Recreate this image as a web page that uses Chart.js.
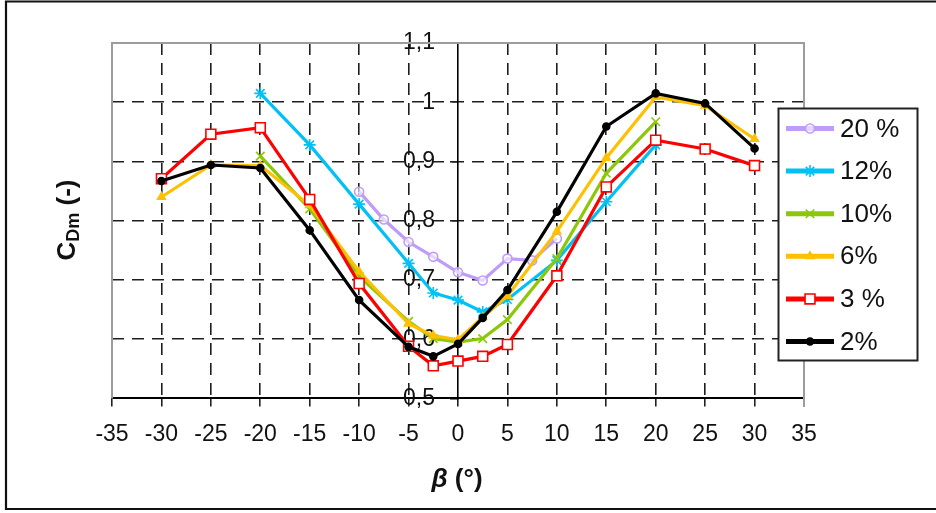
<!DOCTYPE html>
<html>
<head>
<meta charset="utf-8">
<script src="https://cdn.jsdelivr.net/npm/chart.js@4.4.1/dist/chart.umd.min.js"></script>
<style>
  html, body { margin: 0; padding: 0; background: #fff; }
  #wrap { width: 936px; height: 513px; }
</style>
</head>
<body>
<div id="wrap"><canvas id="cd" width="936" height="513"></canvas></div>
<script>
// Drag coefficient C_Dm against yaw angle beta, one curve per blockage ratio

const betaTicks = [-35, -30, -25, -20, -15, -10, -5, 0, 5, 10, 15, 20, 25, 30, 35];
const cdTickLabels = ['0,5', '0,6', '0,7', '0,8', '0,9', '1', '1,1'];

const seriesNames = ['20 %', '12%', '10%', '6%', '3 %', '2%'];

const beta20 = [-10, -7.5, -5, -2.5, 0, 2.5, 5, 7.5, 10];
const cd20   = [0.849, 0.802, 0.764, 0.739, 0.713, 0.699, 0.736, 0.733, 0.770];

const beta12 = [-20, -15, -10, -5, -2.5, 0, 2.5, 5, 10, 15, 20];
const cd12   = [1.015, 0.928, 0.828, 0.728, 0.678, 0.666, 0.646, 0.667, 0.733, 0.832, 0.928];

const beta10 = [-20, -15, -10, -5, -2.5, 0, 2.5, 5, 10, 15, 20];
const cd10   = [0.909, 0.820, 0.706, 0.630, 0.601, 0.595, 0.601, 0.633, 0.736, 0.880, 0.967];

const beta6 = [-30, -25, -20, -15, -10, -5, -2.5, 0, 2.5, 5, 10, 15, 20, 25, 30];
const cd6   = [0.840, 0.894, 0.893, 0.826, 0.714, 0.626, 0.606, 0.599, 0.637, 0.673, 0.782, 0.906, 1.009, 0.994, 0.938];

const beta3 = [-30, -25, -20, -15, -10, -5, -2.5, 0, 2.5, 5, 10, 15, 20, 25, 30];
const cd3   = [0.871, 0.946, 0.957, 0.836, 0.694, 0.588, 0.555, 0.563, 0.571, 0.591, 0.707, 0.857, 0.936, 0.921, 0.893];

const beta2 = [-30, -25, -20, -15, -10, -5, -2.5, 0, 2.5, 5, 10, 15, 20, 25, 30];
const cd2   = [0.867, 0.894, 0.889, 0.784, 0.666, 0.587, 0.571, 0.592, 0.636, 0.683, 0.815, 0.959, 1.015, 0.998, 0.922];

const seriesX = [beta20, beta12, beta10, beta6, beta3, beta2];
const seriesY = [cd20, cd12, cd10, cd6, cd3, cd2];

// line colour and marker for each curve
const looks = [
  { color: '#bf9cf7', point: 'circle',   radius: 4.5, fill: 'rgba(255,255,255,0.6)' },
  { color: '#00c0f5', point: 'star',     radius: 6,   fill: '#00c0f5' },
  { color: '#8cc70a', point: 'crossRot', radius: 6,   fill: '#8cc70a' },
  { color: '#ffc000', point: 'triangle', radius: 4.5, fill: '#ffc000' },
  { color: '#ff0000', point: 'rect',     radius: 7,   fill: '#ffffff' },
  { color: '#000000', point: 'circle',   radius: 3.5, fill: '#000000' }
];

const FONT = "'Liberation Sans', Arial, sans-serif";
const gridInk = '#1e1e1e';

const datasets = seriesNames.map((name, i) => ({
  label: name,
  data: seriesX[i].map((b, k) => ({ x: b, y: seriesY[i][k] })),
  borderColor: looks[i].color,
  borderWidth: 3.2,
  pointStyle: looks[i].point,
  pointRadius: looks[i].radius,
  pointBorderColor: looks[i].color,
  pointBackgroundColor: looks[i].fill,
  pointBorderWidth: 1.6,
  tension: 0,
  order: seriesNames.length - i   // 2% drawn last, on top
}));

function drawMarker(ctx, look, x, y) {
  if (Chart.helpers && Chart.helpers.drawPoint) {
    ctx.save();
    ctx.strokeStyle = look.color;
    ctx.fillStyle = look.fill;
    ctx.lineWidth = 1.6;
    Chart.helpers.drawPoint(ctx, { pointStyle: look.point, radius: look.radius, rotation: 0, borderWidth: 1.6 }, x, y);
    ctx.restore();
  }
}

const decorations = {
  id: 'decorations',
  beforeDraw(chart) {
    const ctx = chart.ctx;
    ctx.save();
    ctx.fillStyle = '#fff';
    ctx.fillRect(0, 0, chart.width, chart.height);
    ctx.restore();
  },
  beforeDatasetsDraw(chart) {
    const { ctx, chartArea: a } = chart;
    // grey frame on three sides of the plot
    ctx.save();
    ctx.strokeStyle = '#9c9c9c';
    ctx.lineWidth = 2;
    ctx.beginPath();
    ctx.moveTo(a.left, a.bottom);
    ctx.lineTo(a.left, a.top);
    ctx.lineTo(a.right, a.top);
    ctx.lineTo(a.right, a.bottom + 8);
    ctx.stroke();
    ctx.restore();
  },
  afterDraw(chart) {
    const ctx = chart.ctx;
    ctx.save();

    // legend box
    const lx = 778, ly = 108, lw = 139, lh = 252;
    ctx.fillStyle = '#fff';
    ctx.fillRect(lx, ly, lw, lh);
    ctx.strokeStyle = '#222';
    ctx.lineWidth = 2;
    ctx.strokeRect(lx + 0.5, ly + 0.5, lw, lh);
    ctx.font = '26px ' + FONT;
    ctx.textBaseline = 'middle';
    ctx.textAlign = 'left';
    seriesNames.forEach((name, i) => {
      const cy = 128.5 + i * 42.6;
      ctx.strokeStyle = looks[i].color;
      ctx.lineWidth = 5;
      ctx.beginPath();
      ctx.moveTo(786, cy);
      ctx.lineTo(834, cy);
      ctx.stroke();
      drawMarker(ctx, looks[i], 810, cy);
      ctx.fillStyle = '#111';
      ctx.fillText(name, 840, cy + 1);
    });

    // y axis title C_Dm (-)
    ctx.save();
    ctx.translate(75, 220);
    ctx.rotate(-Math.PI / 2);
    ctx.fillStyle = '#111';
    ctx.textBaseline = 'alphabetic';
    ctx.textAlign = 'left';
    const big = 'bold 26px ' + FONT, small = 'bold 18px ' + FONT;
    ctx.font = big;   const wC = ctx.measureText('C').width;
    ctx.font = small; const wD = ctx.measureText('Dm').width;
    ctx.font = big;   const wP = ctx.measureText(' (-)').width;
    let x0 = -(wC + wD + wP) / 2;
    ctx.font = big;   ctx.fillText('C', x0, 0);
    ctx.font = small; ctx.fillText('Dm', x0 + wC, 4);
    ctx.font = big;   ctx.fillText(' (-)', x0 + wC + wD, 0);
    ctx.restore();

    // x axis title beta (deg)
    ctx.fillStyle = '#111';
    ctx.textBaseline = 'middle';
    ctx.textAlign = 'left';
    const fb = 'italic bold 26px ' + FONT, fr = 'bold 26px ' + FONT;
    ctx.font = fb; const wb = ctx.measureText('β').width;
    ctx.font = fr; const wr = ctx.measureText(' (°)').width;
    const tx = 457 - (wb + wr) / 2;
    ctx.font = fb; ctx.fillText('β', tx, 480);
    ctx.font = fr; ctx.fillText(' (°)', tx + wb, 480);

    // outer frame
    ctx.strokeStyle = '#111';
    ctx.lineWidth = 2.2;
    ctx.beginPath();
    ctx.moveTo(chart.width, 1.5);
    ctx.lineTo(6, 1.5);
    ctx.lineTo(6, 509);
    ctx.lineTo(chart.width, 509);
    ctx.stroke();

    ctx.restore();
  }
};

new Chart(document.getElementById('cd'), {
  type: 'line',
  data: { datasets },
  options: {
    responsive: false,
    animation: false,
    layout: { padding: { left: 112, right: 132, top: 43, bottom: 51 } },
    plugins: { legend: { display: false }, tooltip: { enabled: false } },
    scales: {
      x: {
        type: 'linear',
        position: 'bottom',
        min: -35,
        max: 35,
        ticks: {
          stepSize: 5,
          autoSkip: false,
          maxRotation: 0,
          padding: 14,
          color: '#111',
          font: { family: FONT, size: 23 },
          callback: (v, i) => betaTicks[i]
        },
        grid: {
          color: c => [-35, 0, 35].includes(c.tick && c.tick.value) ? 'rgba(0,0,0,0)' : gridInk,
          lineWidth: 1.6,
          tickColor: '#222',
          tickLength: 8
        },
        border: { color: '#000', width: 2, dash: [12, 8] }
      },
      y: {
        type: 'linear',
        position: { x: 0 },
        min: 0.5,
        max: 1.1,
        ticks: {
          stepSize: 0.1,
          color: '#111',
          font: { family: FONT, size: 23 },
          // em space keeps the label clear of the axis line at beta = 0
          callback: (v, i) => cdTickLabels[i] + '\u2003'
        },
        grid: {
          color: c => (c.index === 0 || c.index === cdTickLabels.length - 1) ? 'rgba(0,0,0,0)' : gridInk,
          lineWidth: 1.6,
          tickColor: '#222',
          tickLength: 7
        },
        border: { color: '#000', width: 1.6, dash: [12, 8] }
      }
    }
  },
  plugins: [decorations]
});
</script>
</body>
</html>
